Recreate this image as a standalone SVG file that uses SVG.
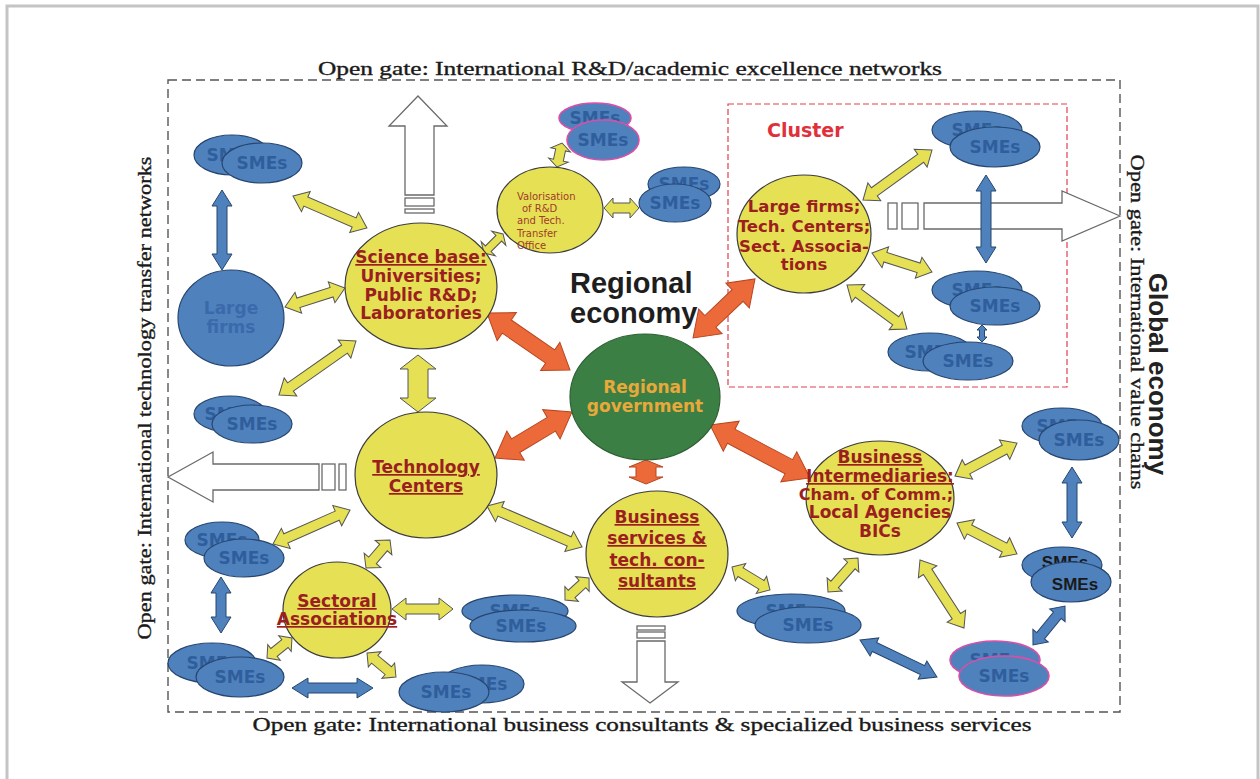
<svg xmlns="http://www.w3.org/2000/svg" width="1260" height="779" viewBox="0 0 1260 779">
<style>
.y{fill:#e6e055;stroke:#3c3c3c;stroke-width:1.2}
.b{fill:#4f81bd;stroke:#27466f;stroke-width:1.2}
.bp{fill:#4f81bd;stroke:#d94fa8;stroke-width:1.6}
.sm{font-family:"DejaVu Sans",Verdana,sans-serif;font-weight:bold;font-size:17px;fill:#2f5e9c;text-anchor:middle}
.sk{font-family:"Liberation Sans",Arial,sans-serif;font-weight:bold;font-size:17px;fill:#1a1a1a;text-anchor:middle}
.nl{font-family:"DejaVu Sans",Verdana,sans-serif;font-weight:bold;font-size:17px;fill:#9b1f1f;text-anchor:middle}
.u{text-decoration:underline}
.ya{fill:#e6e055;stroke:#555;stroke-width:1}
.ba{fill:#4f81bd;stroke:#27466f;stroke-width:1}
.oa{fill:#ec6a3a;stroke:#b8461f;stroke-width:1}
.wa{fill:#fff;stroke:#6a6a6a;stroke-width:1.3}
.gate{font-family:"Liberation Serif","Times New Roman",serif;font-size:19px;fill:#1a1a1a;stroke:#1a1a1a;stroke-width:0.35;text-anchor:middle}
</style>
<rect x="0" y="0" width="1260" height="779" fill="#fff"/>
<g id="frame">
<rect x="7" y="6" width="1251" height="790" fill="none" stroke="#c4c4c4" stroke-width="3"/>
<rect x="168" y="80" width="952" height="632" fill="none" stroke="#555" stroke-width="1.4" stroke-dasharray="9,5"/>
</g>
<g id="labels">
<text class="gate" x="630" y="75" textLength="624" lengthAdjust="spacingAndGlyphs">Open gate: International R&amp;D/academic excellence networks</text>
<text class="gate" x="642" y="731" textLength="779" lengthAdjust="spacingAndGlyphs">Open gate: International business consultants &amp; specialized business services</text>
<text class="gate" transform="translate(151,398) rotate(-90)" textLength="483" lengthAdjust="spacingAndGlyphs">Open gate: International technology transfer networks</text>
<text class="gate" transform="translate(1131,322) rotate(90)" textLength="335" lengthAdjust="spacingAndGlyphs">Open gate: International value chains</text>
<text transform="translate(1149,374) rotate(90)" font-family="Liberation Sans, Arial, sans-serif" font-weight="bold" font-size="26" fill="#222" text-anchor="middle">Global economy</text>
<text x="570" y="293" font-family="Liberation Sans, Arial, sans-serif" font-weight="bold" font-size="29" fill="#1e1e1e">Regional</text>
<text x="570" y="323" font-family="Liberation Sans, Arial, sans-serif" font-weight="bold" font-size="29" fill="#1e1e1e">economy</text>
</g>
<g id="cluster">
<rect x="728" y="104" width="339" height="283" fill="none" stroke="#e0404e" stroke-width="1.2" stroke-dasharray="6,3"/>
<text x="767" y="137" font-family="DejaVu Sans, Verdana, sans-serif" font-weight="bold" font-size="19" fill="#e0303a">Cluster</text>
</g>
<g id="connectors">
<polygon class="wa" points="418,96 447,126 434,126 434,195 405,195 405,126 389,126"/>
<rect class="wa" x="405" y="198" width="29" height="8"/>
<rect class="wa" x="405" y="209" width="29" height="4"/>
<polygon class="wa" points="168,477 213,452 213,464 319,464 319,490 213,490 213,502"/>
<rect class="wa" x="322" y="464" width="13" height="26"/>
<rect class="wa" x="339" y="464" width="7" height="26"/>
<polygon class="wa" points="1120,216 1062,191 1062,203 924,203 924,229 1062,229 1062,241"/>
<rect class="wa" x="888" y="203" width="9" height="26"/>
<rect class="wa" x="902" y="203" width="16" height="26"/>
<polygon class="wa" points="650,703 678,682 665,682 665,641 637,641 637,682 622,682"/>
<rect class="wa" x="637" y="626" width="28" height="4"/>
<rect class="wa" x="637" y="632" width="28" height="6"/>
<path class="ya" transform="translate(293,196) rotate(23.4)" d="M0,0L14,-11L14,-5L66.6,-5L66.6,-11L80.6,0L66.6,11L66.6,5L14,5L14,11Z"/>
<path class="ya" transform="translate(285,307) rotate(-17.6)" d="M0,0L14,-11L14,-5L48.9,-5L48.9,-11L62.9,0L48.9,11L48.9,5L14,5L14,11Z"/>
<path class="ya" transform="translate(484,253) rotate(-45)" d="M0,0L6,-10L6,-4L20.9,-4L20.9,-10L26.9,0L20.9,10L20.9,4L6,4L6,10Z"/>
<path class="ya" transform="translate(557,167) rotate(-78.2)" d="M0,0L7,-10L7,-5L17.5,-5L17.5,-10L24.5,0L17.5,10L17.5,5L7,5L7,10Z"/>
<path class="ya" transform="translate(604,208)" d="M0,0L9,-10L9,-5L26,-5L26,-10L35,0L26,10L26,5L9,5L9,10Z"/>
<path class="ya" transform="translate(279,395) rotate(-35)" d="M0,0L14,-11L14,-5L80,-5L80,-11L94,0L80,11L80,5L14,5L14,11Z"/>
<path class="ya" transform="translate(418,355) rotate(90)" d="M0,0L14,-18L14,-10L43,-10L43,-18L57,0L43,18L43,10L14,10L14,18Z"/>
<path class="ya" transform="translate(273,544) rotate(-23.8)" d="M0,0L14,-11L14,-5L70.2,-5L70.2,-11L84.2,0L70.2,11L70.2,5L14,5L14,11Z"/>
<path class="ya" transform="translate(366,568) rotate(-49.4)" d="M0,0L10,-11L10,-5L26.9,-5L26.9,-11L36.9,0L26.9,11L26.9,5L10,5L10,11Z"/>
<path class="ya" transform="translate(487,506) rotate(23.3)" d="M0,0L14,-11L14,-5L89.5,-5L89.5,-11L103.5,0L89.5,11L89.5,5L14,5L14,11Z"/>
<path class="ya" transform="translate(392,609)" d="M0,0L14,-11L14,-5L47,-5L47,-11L61,0L47,11L47,5L14,5L14,11Z"/>
<path class="ya" transform="translate(267,658) rotate(-38.7)" d="M0,0L9,-10L9,-5L23,-5L23,-10L32,0L23,10L23,5L9,5L9,10Z"/>
<path class="ya" transform="translate(367,653) rotate(39.6)" d="M0,0L10,-10L10,-5L27.6,-5L27.6,-10L37.6,0L27.6,10L27.6,5L10,5L10,10Z"/>
<path class="ya" transform="translate(565,600) rotate(-42.5)" d="M0,0L9,-10L9,-5L23.6,-5L23.6,-10L32.6,0L23.6,10L23.6,5L9,5L9,10Z"/>
<path class="ya" transform="translate(732,567) rotate(31.2)" d="M0,0L10,-10L10,-5L34.4,-5L34.4,-10L44.4,0L34.4,10L34.4,5L10,5L10,10Z"/>
<path class="ya" transform="translate(828,592) rotate(-48.6)" d="M0,0L10,-10L10,-5L35.3,-5L35.3,-10L45.3,0L35.3,10L35.3,5L10,5L10,10Z"/>
<path class="ya" transform="translate(920,560) rotate(57.1)" d="M0,0L14,-11L14,-5L67,-5L67,-11L81,0L67,11L67,5L14,5L14,11Z"/>
<path class="ya" transform="translate(955,476) rotate(-28)" d="M0,0L14,-11L14,-5L56.2,-5L56.2,-11L70.2,0L56.2,11L56.2,5L14,5L14,11Z"/>
<path class="ya" transform="translate(957,523) rotate(27.3)" d="M0,0L14,-11L14,-5L53.5,-5L53.5,-11L67.5,0L53.5,11L53.5,5L14,5L14,11Z"/>
<path class="ya" transform="translate(863,200) rotate(-35.9)" d="M0,0L14,-11L14,-5L71.2,-5L71.2,-11L85.2,0L71.2,11L71.2,5L14,5L14,11Z"/>
<path class="ya" transform="translate(872,253) rotate(17.6)" d="M0,0L14,-11L14,-5L48.9,-5L48.9,-11L62.9,0L48.9,11L48.9,5L14,5L14,11Z"/>
<path class="ya" transform="translate(847,285) rotate(36.3)" d="M0,0L14,-11L14,-5L60.4,-5L60.4,-11L74.4,0L60.4,11L60.4,5L14,5L14,11Z"/>
<path class="ba" transform="translate(222,190) rotate(90)" d="M0,0L16,-10L16,-5L64,-5L64,-10L80,0L64,10L64,5L16,5L16,10Z"/>
<path class="ba" transform="translate(986,175) rotate(90)" d="M0,0L16,-10L16,-5L72,-5L72,-10L88,0L72,10L72,5L16,5L16,10Z"/>
<path class="ba" transform="translate(982,325) rotate(90)" d="M0,0L5,-5L5,-2.5L12,-2.5L12,-5L17,0L12,5L12,2.5L5,2.5L5,5Z"/>
<path class="ba" transform="translate(221,577) rotate(90)" d="M0,0L16,-10L16,-5L40,-5L40,-10L56,0L40,10L40,5L16,5L16,10Z"/>
<path class="ba" transform="translate(292,688)" d="M0,0L16,-10L16,-5L65,-5L65,-10L81,0L65,10L65,5L16,5L16,10Z"/>
<path class="ba" transform="translate(860,640) rotate(25.7)" d="M0,0L16,-10L16,-5L69.4,-5L69.4,-10L85.4,0L69.4,10L69.4,5L16,5L16,10Z"/>
<path class="ba" transform="translate(1072,467) rotate(90)" d="M0,0L16,-10L16,-5L55,-5L55,-10L71,0L55,10L55,5L16,5L16,10Z"/>
<path class="ba" transform="translate(1033,645) rotate(-50.6)" d="M0,0L12,-10L12,-5L38.4,-5L38.4,-10L50.4,0L38.4,10L38.4,5L12,5L12,10Z"/>
<path class="oa" transform="translate(487,313) rotate(34.5)" d="M0,0L24,-17L24,-8L76.7,-8L76.7,-17L100.7,0L76.7,17L76.7,8L24,8L24,17Z"/>
<path class="oa" transform="translate(693,338) rotate(-43.6)" d="M0,0L24,-17L24,-8L61.6,-8L61.6,-17L85.6,0L61.6,17L61.6,8L24,8L24,17Z"/>
<path class="oa" transform="translate(495,458) rotate(-30.9)" d="M0,0L24,-17L24,-8L65.7,-8L65.7,-17L89.7,0L65.7,17L65.7,8L24,8L24,17Z"/>
<path class="oa" transform="translate(646,460) rotate(90)" d="M0,0L7,-17L7,-10L17,-10L17,-17L24,0L17,17L17,10L7,10L7,17Z"/>
<path class="oa" transform="translate(710,425) rotate(27.9)" d="M0,0L24,-17L24,-8L89.2,-8L89.2,-17L113.2,0L89.2,17L89.2,8L24,8L24,17Z"/>
</g>
<g id="sme-top-left">
<ellipse class="b" cx="232" cy="155" rx="38" ry="20"/><text class="sm" x="232" y="161">SMEs</text>
<ellipse class="b" cx="262" cy="163" rx="40" ry="20"/><text class="sm" x="262" y="169">SMEs</text>
</g>
<g id="large-firms">
<ellipse class="b" cx="231" cy="318" rx="53" ry="48"/>
<text class="sm" x="231" y="314" style="fill:#3a6aac">Large</text>
<text class="sm" x="231" y="333" style="fill:#3a6aac">firms</text>
</g>
<g id="sme-mid-left">
<ellipse class="b" cx="230" cy="414" rx="36" ry="18"/><text class="sm" x="230" y="420">SMEs</text>
<ellipse class="b" cx="252" cy="424" rx="40" ry="19"/><text class="sm" x="252" y="430">SMEs</text>
</g>
<g id="science-base">
<ellipse class="y" cx="421" cy="286" rx="76" ry="63"/>
<text class="nl"><tspan class="u" x="421" y="263">Science base:</tspan><tspan x="421" y="282">Universities;</tspan><tspan x="421" y="301">Public R&amp;D;</tspan><tspan x="421" y="319">Laboratories</tspan></text>
</g>
<g id="valorisation-office">
<ellipse class="y" cx="550" cy="210" rx="53" ry="43"/>
<text font-family="DejaVu Sans, Verdana, sans-serif" font-size="10" fill="#a03c2a"><tspan x="517" y="200">Valorisation</tspan><tspan x="522" y="212">of R&amp;D</tspan><tspan x="517" y="224">and Tech.</tspan><tspan x="517" y="237">Transfer</tspan><tspan x="517" y="249">Office</tspan></text>
</g>
<g id="sme-valorisation-top">
<ellipse class="bp" cx="595" cy="118" rx="36" ry="15"/><text class="sm" x="595" y="124">SMEs</text>
<ellipse class="bp" cx="603" cy="140" rx="36" ry="20"/><text class="sm" x="603" y="146">SMEs</text>
</g>
<g id="sme-valorisation-right">
<ellipse class="b" cx="684" cy="184" rx="36" ry="17"/><text class="sm" x="684" y="190">SMEs</text>
<ellipse class="b" cx="675" cy="203" rx="36" ry="19"/><text class="sm" x="675" y="209">SMEs</text>
</g>
<g id="technology-centers">
<ellipse class="y" cx="426" cy="475" rx="71" ry="63"/>
<text class="nl"><tspan class="u" x="426" y="473">Technology</tspan><tspan class="u" x="426" y="492">Centers</tspan></text>
</g>
<g id="sme-low-left">
<ellipse class="b" cx="222" cy="540" rx="37" ry="18"/><text class="sm" x="222" y="546">SMEs</text>
<ellipse class="b" cx="244" cy="558" rx="40" ry="19"/><text class="sm" x="244" y="564">SMEs</text>
</g>
<g id="sectoral-associations">
<ellipse class="y" cx="337" cy="610" rx="54" ry="48"/>
<text class="nl"><tspan class="u" x="337" y="607">Sectoral</tspan><tspan class="u" x="337" y="625">Associations</tspan></text>
</g>
<g id="sme-bottom-left">
<ellipse class="b" cx="212" cy="663" rx="44" ry="20"/><text class="sm" x="212" y="669">SMEs</text>
<ellipse class="b" cx="240" cy="677" rx="44" ry="20"/><text class="sm" x="240" y="683">SMEs</text>
</g>
<g id="sme-bottom-mid">
<ellipse class="b" cx="482" cy="684" rx="42" ry="19"/><text class="sm" x="482" y="690">SMEs</text>
<ellipse class="b" cx="444" cy="692" rx="45" ry="20"/><text class="sm" x="446" y="698">SMEs</text>
</g>
<g id="sme-center">
<ellipse class="b" cx="515" cy="611" rx="53" ry="16"/><text class="sm" x="515" y="617">SMEs</text>
<ellipse class="b" cx="523" cy="626" rx="53" ry="16"/><text class="sm" x="521" y="632">SMEs</text>
</g>
<g id="regional-government">
<ellipse cx="645" cy="397" rx="75" ry="63" fill="#3b7f45" stroke="#2d5f33" stroke-width="1.2"/>
<text class="nl" style="fill:#e9a83a"><tspan x="645" y="393">Regional</tspan><tspan x="645" y="412">government</tspan></text>
</g>
<g id="business-services">
<ellipse class="y" cx="657" cy="554" rx="71" ry="63"/>
<text class="nl"><tspan class="u" x="657" y="523">Business</tspan><tspan class="u" x="657" y="544">services &amp;</tspan><tspan class="u" x="657" y="566">tech. con-</tspan><tspan class="u" x="657" y="587">sultants</tspan></text>
</g>
<g id="sme-bottom-mid-right">
<ellipse class="b" cx="791" cy="611" rx="54" ry="17"/><text class="sm" x="791" y="617">SMEs</text>
<ellipse class="b" cx="808" cy="625" rx="53" ry="18"/><text class="sm" x="808" y="631">SMEs</text>
</g>
<g id="business-intermediaries">
<ellipse class="y" cx="880" cy="498" rx="74" ry="57"/>
<text class="nl"><tspan class="u" x="880" y="463">Business</tspan><tspan class="u" x="880" y="482">Intermediaries:</tspan><tspan x="876" y="500" style="font-size:16px">Cham. of Comm.;</tspan><tspan x="880" y="518">Local Agencies</tspan><tspan x="880" y="537">BICs</tspan></text>
</g>
<g id="cluster-firms">
<ellipse class="y" cx="804" cy="234" rx="67" ry="59"/>
<text class="nl" style="font-size:16.5px"><tspan x="804" y="212">Large firms;</tspan><tspan x="804" y="232">Tech. Centers;</tspan><tspan x="804" y="252">Sect. Associa-</tspan><tspan x="804" y="270">tions</tspan></text>
</g>
<g id="cluster-sme-top">
<ellipse class="b" cx="977" cy="130" rx="45" ry="19"/><text class="sm" x="977" y="136">SMEs</text>
<ellipse class="b" cx="995" cy="147" rx="45" ry="20"/><text class="sm" x="995" y="153">SMEs</text>
</g>
<g id="cluster-sme-mid">
<ellipse class="b" cx="977" cy="290" rx="45" ry="19"/><text class="sm" x="977" y="296">SMEs</text>
<ellipse class="b" cx="995" cy="306" rx="45" ry="19"/><text class="sm" x="995" y="312">SMEs</text>
</g>
<g id="cluster-sme-bottom">
<ellipse class="b" cx="930" cy="352" rx="42" ry="19"/><text class="sm" x="930" y="358">SMEs</text>
<ellipse class="b" cx="968" cy="361" rx="45" ry="19"/><text class="sm" x="968" y="367">SMEs</text>
</g>
<g id="sme-right-top">
<ellipse class="b" cx="1062" cy="426" rx="40" ry="18"/><text class="sm" x="1062" y="432">SMEs</text>
<ellipse class="b" cx="1079" cy="440" rx="40" ry="20"/><text class="sm" x="1079" y="446">SMEs</text>
</g>
<g id="sme-right-mid">
<ellipse class="b" cx="1062" cy="565" rx="40" ry="18"/><text class="sk" x="1065" y="568">SMEs</text>
<ellipse class="b" cx="1071" cy="582" rx="40" ry="20"/><text class="sk" x="1075" y="590">SMEs</text>
</g>
<g id="sme-right-bottom">
<ellipse class="bp" cx="995" cy="660" rx="45" ry="19"/><text class="sm" x="995" y="666">SMEs</text>
<ellipse class="bp" cx="1004" cy="676" rx="45" ry="20"/><text class="sm" x="1004" y="682">SMEs</text>
</g>
</svg>
